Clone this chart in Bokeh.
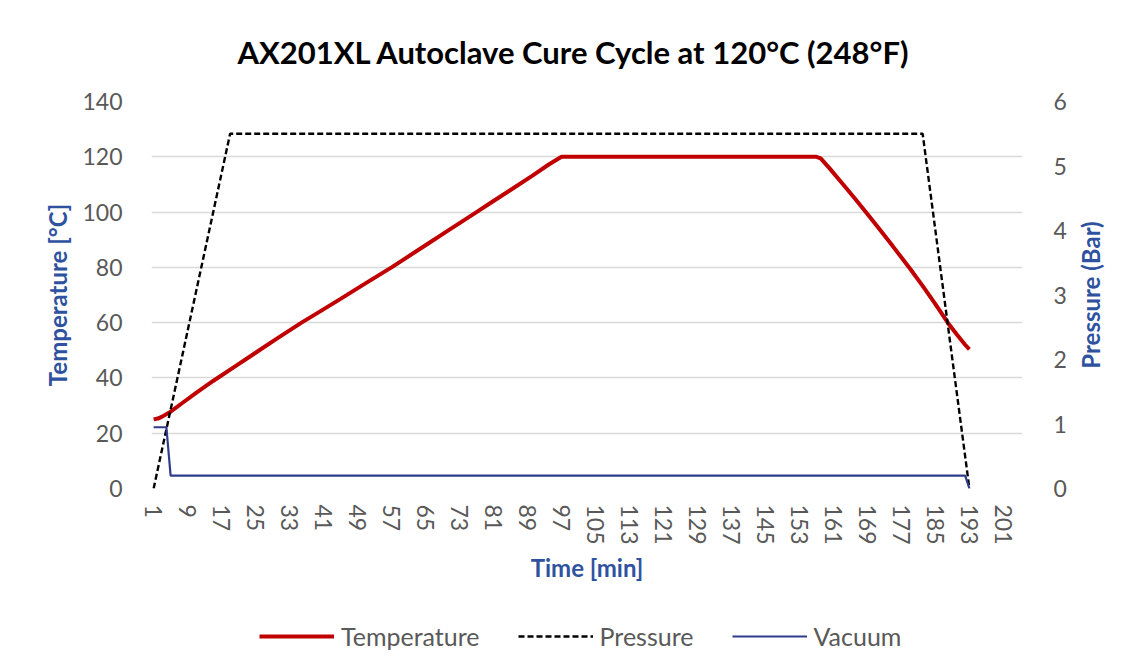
import math
from bokeh.plotting import figure
from bokeh.layouts import column, row
from bokeh.models import (Range1d, LinearAxis, FixedTicker, Legend, LegendItem, Title,
                          Label)
from bokeh.embed import file_html
from bokeh.resources import INLINE

# ---- data ----
temp_t = [1, 2, 3, 5, 8, 11, 15, 20, 25, 30, 36, 40, 45, 50, 57, 60, 65, 70, 77, 80,
          85, 90, 94, 97, 157, 158, 160, 163, 166, 169, 172, 175, 179, 182, 185, 188,
          190, 192, 193]
temp_v = [25.0, 25.3, 26.0, 27.8, 31.2, 34.6, 38.9, 44.0, 49.1, 54.2, 60.2, 63.9, 68.6,
          73.4, 80.0, 83.0, 88.0, 93.0, 100.0, 103.0, 108.0, 113.0, 117.2, 120.0, 120.0,
          119.4, 116.0, 110.5, 105.0, 99.3, 93.5, 87.6, 79.6, 73.3, 66.7, 59.8, 55.8,
          52.0, 50.3]
pressure_t = [1, 19, 182, 193]
pressure_v = [0.0, 5.5, 5.5, 0.0]
vacuum_t = [1, 4, 5, 192, 193]
vacuum_v = [0.95, 0.95, 0.2, 0.2, 0.0]
x_ticks = list(range(1, 202, 8))
temp_ticks = [0, 20, 40, 60, 80, 100, 120, 140]
pres_ticks = [0, 1, 2, 3, 4, 5, 6]
n_categories = 205
series_names = ["Temperature", "Pressure", "Vacuum"]

FONT = "Lato"
TICK_COLOR = "#595959"
AXIS_TITLE_COLOR = "#2F52A0"
TEMP_COLOR = "#C00000"
PRES_COLOR = "#000000"
VAC_COLOR = "#2F3B8C"

W = 1128
W_MAIN = 1072
W_RIGHT = W - W_MAIN
H_MAIN = 605
H_LEG = 65
LEFT, FRAME_W, TOP, FRAME_H = 151, 871, 101, 387

p = figure(width=W_MAIN, height=H_MAIN, output_backend="svg", toolbar_location=None,
           x_range=Range1d(0.5, n_categories + 0.5), y_range=Range1d(0, 140),
           min_border_left=LEFT, min_border_right=W_MAIN - LEFT - FRAME_W,
           min_border_top=TOP, min_border_bottom=H_MAIN - TOP - FRAME_H)
p.outline_line_color = None
p.background_fill_color = "white"
p.border_fill_color = "white"

p.extra_y_ranges = {"pres": Range1d(0, 6)}

# title
p.title = Title(text="AX201XL Autoclave Cure Cycle at 120°C (248°F)", align="left",
                offset=86, text_font=FONT, text_font_size="31px",
                text_font_style="bold", text_color="#000000", standoff=61)

# axes styling
def style_axis(ax):
    ax.axis_line_color = None
    ax.major_tick_line_color = None
    ax.minor_tick_line_color = None
    ax.major_label_text_font = FONT
    ax.major_label_text_font_size = "23px"
    ax.major_label_text_color = TICK_COLOR
    ax.axis_label_text_font = FONT
    ax.axis_label_text_font_size = "24px"
    ax.axis_label_text_font_style = "bold"
    ax.axis_label_text_color = AXIS_TITLE_COLOR

xa = p.xaxis[0]
style_axis(xa)
xa.ticker = FixedTicker(ticks=x_ticks)
xa.major_label_orientation = "vertical"
xa.major_label_standoff = 10
xa.axis_label = "Time [min]"
xa.axis_label_standoff = 5

ya = p.yaxis[0]
style_axis(ya)
ya.ticker = FixedTicker(ticks=temp_ticks)
ya.major_label_standoff = 23
ya.axis_label = "Temperature [°C]"
ya.axis_label_standoff = 7

ra = LinearAxis(y_range_name="pres", ticker=FixedTicker(ticks=pres_ticks))
style_axis(ra)
ra.major_label_standoff = 25
p.add_layout(ra, "right")

p.xgrid.visible = False
p.ygrid.grid_line_color = "#D9D9D9"
p.ygrid.grid_line_width = 1.5
p.ygrid.ticker = FixedTicker(ticks=temp_ticks)

p.line(temp_t, temp_v, line_color=TEMP_COLOR, line_width=4)
p.line(pressure_t, pressure_v, y_range_name="pres", line_color=PRES_COLOR,
       line_width=2.4, line_dash="6 3")
p.line(vacuum_t, vacuum_v, y_range_name="pres", line_color=VAC_COLOR, line_width=2.2)

# ---- right strip holding the secondary axis title (reads bottom to top) ----
rf = figure(width=W_RIGHT, height=H_MAIN, output_backend="svg", toolbar_location=None,
            x_range=Range1d(0, W_RIGHT), y_range=Range1d(0, 1),
            x_axis_type=None, y_axis_type=None,
            min_border_left=0, min_border_right=0, min_border_top=TOP,
            min_border_bottom=H_MAIN - TOP - FRAME_H)
rf.outline_line_color = None
rf.background_fill_color = "white"
rf.border_fill_color = "white"
rf.add_layout(Label(x=18, y=0.5, text="Pressure (Bar)", angle=math.pi / 2,
                    text_align="center", text_baseline="middle", text_font=FONT,
                    text_font_size="24px", text_font_style="bold",
                    text_color=AXIS_TITLE_COLOR))

# ---- legend strip below the chart ----
lf = figure(width=W, height=H_LEG, output_backend="svg", toolbar_location=None,
            x_range=Range1d(-2, -1), y_range=Range1d(-2, -1),
            x_axis_type=None, y_axis_type=None,
            min_border_left=LEFT, min_border_right=W - LEFT - FRAME_W, min_border_top=0,
            min_border_bottom=0)
lf.outline_line_color = None
lf.background_fill_color = "white"
lf.border_fill_color = "white"
# same series, outside this strip's ranges: only their legend glyphs show
lr_t = lf.line(temp_t, temp_v, line_color=TEMP_COLOR, line_width=4)
lr_p = lf.line(pressure_t, pressure_v, line_color=PRES_COLOR, line_width=2.4,
               line_dash="6 3")
lr_v = lf.line(vacuum_t, vacuum_v, line_color=VAC_COLOR, line_width=2.2)

legend = Legend(items=[LegendItem(label=series_names[0], renderers=[lr_t]),
                       LegendItem(label=series_names[1], renderers=[lr_p]),
                       LegendItem(label=series_names[2], renderers=[lr_v])],
                orientation="horizontal", location=(108, 19),
                glyph_width=75, glyph_height=20, spacing=38, label_standoff=7,
                label_text_font=FONT, label_text_font_size="25px",
                label_text_color=TICK_COLOR, border_line_color=None,
                background_fill_alpha=0, padding=5, margin=0)
lf.add_layout(legend, "center")

layout = column(row(p, rf, spacing=0), lf, spacing=0)

open("out.html", "w").write(file_html(layout, INLINE))
